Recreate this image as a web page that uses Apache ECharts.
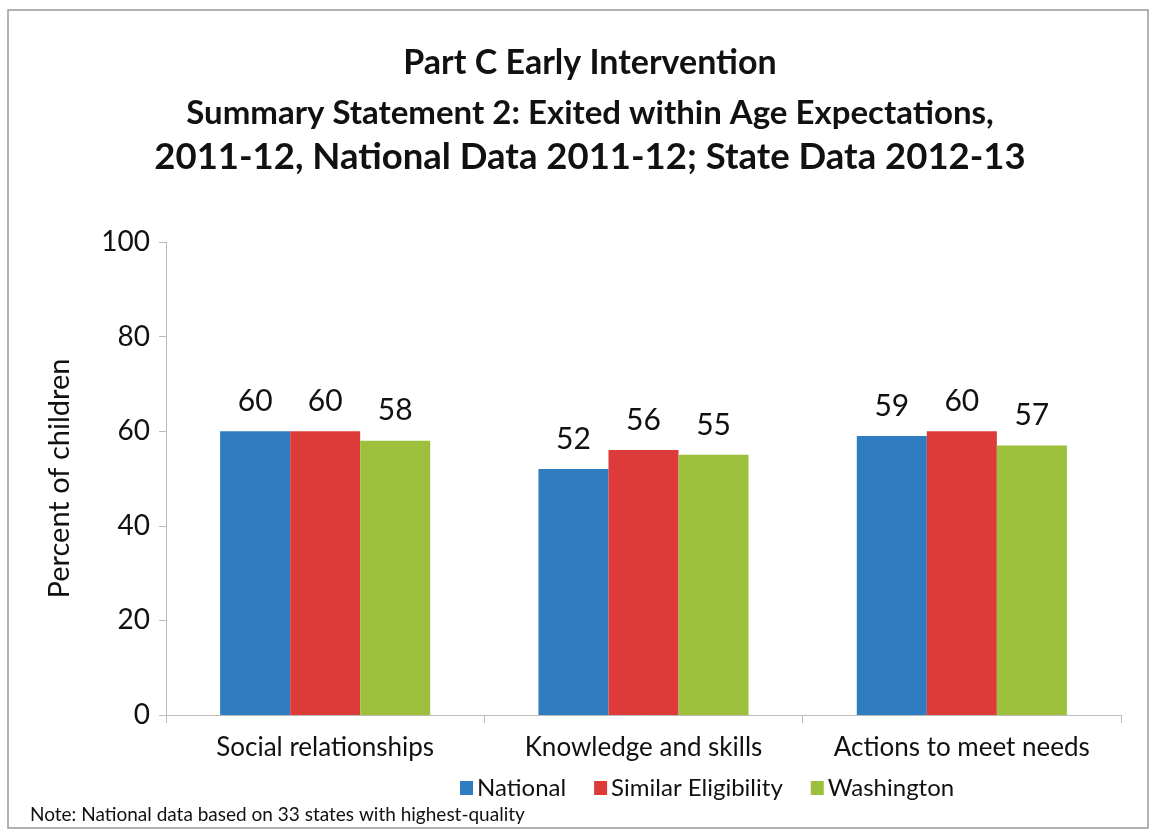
<!DOCTYPE html>
<html>
<head>
<meta charset="utf-8">
<script src="https://cdn.jsdelivr.net/npm/echarts@6/dist/echarts.min.js"></script>
<style>
  html, body { margin: 0; padding: 0; background: #fff; }
  #chart { width: 1153px; height: 834px; }
</style>
</head>
<body>
<div id="chart"></div>
<script>
// Outcome areas and percentages by comparison group
const categories = ['Social relationships', 'Knowledge and skills', 'Actions to meet needs'];
const nationalValues = [60, 52, 59];
const similarEligibilityValues = [60, 56, 60];
const washingtonValues = [58, 55, 57];
const seriesNames = ['National', 'Similar Eligibility', 'Washington'];
const seriesColors = ['#2f7cc0', '#dd3b3a', '#9cbf3c'];
const titleLines = [
  'Part C Early Intervention',
  'Summary Statement 2: Exited within Age Expectations,',
  '2011-12, National Data 2011-12; State Data 2012-13'
];
const noteText = 'Note: National data based on 33 states with highest-quality';

const FONT = 'Lato, "Open Sans", sans-serif';
const chart = echarts.init(document.getElementById('chart'));

function barSeries(name, data, color) {
  return {
    name: name,
    type: 'bar',
    data: data,
    barGap: '0%',
    barCategoryGap: '34%',
    itemStyle: { color: color },
    label: {
      show: true,
      position: 'top',
      distance: 15,
      color: '#111',
      fontSize: 30,
      fontFamily: FONT
    }
  };
}

// Centred title line
function titleLine(text, y, size) {
  return {
    type: 'text', x: 590, y: y,
    style: { text: text, font: 'bold ' + size + 'px ' + FONT, fill: '#111', align: 'center', verticalAlign: 'middle' }
  };
}

chart.setOption({
  backgroundColor: '#fff',
  animation: false,
  graphic: [
    {
      type: 'rect',
      shape: { x: 8, y: 10, width: 1140, height: 818 },
      style: { fill: 'none', stroke: '#999', lineWidth: 1.5 }
    },
    titleLine(titleLines[0], 63, 34),
    titleLine(titleLines[1], 113, 33),
    titleLine(titleLines[2], 157, 36.5),
    {
      type: 'text', left: 30, top: 805,
      style: { text: noteText, font: '19px ' + FONT, fill: '#111' }
    }
  ],
  legend: {
    data: seriesNames,
    top: 771,
    left: 455,
    icon: 'rect',
    itemWidth: 13,
    itemHeight: 14,
    itemGap: 28,
    textStyle: { fontSize: 24, color: '#111', fontFamily: FONT, padding: [0, 0, 0, -1] }
  },
  grid: { left: 166, right: 32, top: 242, bottom: 119 },
  xAxis: {
    type: 'category',
    data: categories,
    axisLine: { lineStyle: { color: '#bbb' } },
    axisTick: { show: true, length: 8, lineStyle: { color: '#bbb' } },
    axisLabel: { interval: 0, fontSize: 26, color: '#111', fontFamily: FONT, margin: 20 }
  },
  yAxis: {
    type: 'value',
    min: 0,
    max: 100,
    interval: 20,
    name: 'Percent of children',
    nameLocation: 'middle',
    nameGap: 92,
    nameTextStyle: { fontSize: 29, color: '#111', fontFamily: FONT },
    axisLine: { show: true, lineStyle: { color: '#bbb' } },
    axisTick: { show: true, length: 7, lineStyle: { color: '#bbb' } },
    splitLine: { show: false },
    axisLabel: { fontSize: 28, color: '#111', fontFamily: FONT, margin: 16 }
  },
  series: [
    barSeries(seriesNames[0], nationalValues, seriesColors[0]),
    barSeries(seriesNames[1], similarEligibilityValues, seriesColors[1]),
    barSeries(seriesNames[2], washingtonValues, seriesColors[2])
  ]
});
</script>
</body>
</html>
